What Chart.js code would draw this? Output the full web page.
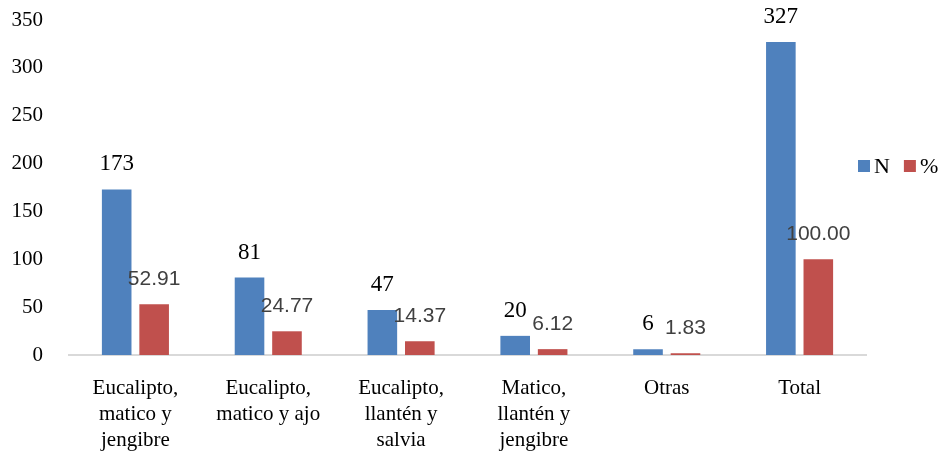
<!DOCTYPE html>
<html>
<head>
<meta charset="utf-8">
<script src="https://cdn.jsdelivr.net/npm/chart.js@4/dist/chart.umd.min.js"></script>
<style>
  html, body { margin: 0; padding: 0; background: #ffffff; }
  #wrap { width: 944px; height: 453px; }
</style>
</head>
<body>
<div id="wrap"><canvas id="chart" width="944" height="453"></canvas></div>
<script>
// Plant combinations (wrapped category labels)
const categories = [
  ["Eucalipto,", "matico y", "jengibre"],
  ["Eucalipto,", "matico y ajo"],
  ["Eucalipto,", "llantén y", "salvia"],
  ["Matico,", "llantén y", "jengibre"],
  ["Otras"],
  ["Total"]
];
const seriesNames = ["N", "%"];
const countValues = [173, 81, 47, 20, 6, 327];
const percentValues = [52.91, 24.77, 14.37, 6.12, 1.83, 100.00];
const yTicks = [0, 50, 100, 150, 200, 250, 300, 350];

const BLUE = "#4F81BD";
const RED = "#C0504D";
const SERIF = "'Liberation Serif', 'Times New Roman', serif";
const SANS = "'Liberation Sans', Arial, sans-serif";

// Value labels above each bar
const valueLabels = {
  id: "valueLabels",
  afterDatasetsDraw(chart) {
    const ctx = chart.ctx;
    ctx.save();
    ctx.textAlign = "center";
    ctx.textBaseline = "middle";
    chart.data.datasets.forEach((ds, di) => {
      const meta = chart.getDatasetMeta(di);
      meta.data.forEach((bar, i) => {
        const v = ds.data[i];
        if (di === 0) {
          ctx.font = "23px " + SERIF;
          ctx.fillStyle = "#000000";
          ctx.fillText(String(v), bar.x, bar.y - 25);
        } else {
          ctx.font = "21px " + SANS;
          ctx.fillStyle = "#404040";
          ctx.fillText(v.toFixed(2), bar.x, bar.y - 25);
        }
      });
    });
    ctx.restore();
  }
};

// Horizontal legend at the right edge
const sideLegend = {
  id: "sideLegend",
  afterDraw(chart) {
    const ctx = chart.ctx;
    const area = chart.chartArea;
    const cy = 166;
    let x = area.right - 8;
    ctx.save();
    ctx.font = "22px " + SERIF;
    ctx.textBaseline = "middle";
    ctx.textAlign = "left";
    chart.data.datasets.forEach((ds) => {
      ctx.fillStyle = ds.backgroundColor;
      ctx.fillRect(x, cy - 6, 12, 12);
      x += 16;
      ctx.fillStyle = "#000000";
      ctx.fillText(ds.label, x, cy + 1);
      x += ctx.measureText(ds.label).width + 14;
    });
    ctx.restore();
  }
};

new Chart(document.getElementById("chart"), {
  type: "bar",
  data: {
    labels: categories,
    datasets: [
      { label: seriesNames[0], data: countValues, backgroundColor: BLUE },
      { label: seriesNames[1], data: percentValues, backgroundColor: RED }
    ]
  },
  options: {
    responsive: false,
    animation: false,
    layout: { padding: { left: 0, right: 78, top: 20, bottom: 0 } },
    datasets: { bar: { categoryPercentage: 0.564, barPercentage: 0.79 } },
    plugins: { legend: { display: false }, tooltip: { enabled: false } },
    scales: {
      x: {
        grid: { display: false },
        border: { display: true, color: "#d9d9d9", width: 2 },
        ticks: {
          color: "#000000",
          font: { family: SERIF, size: 21, lineHeight: 1.24 },
          padding: 12,
          maxRotation: 0,
          autoSkip: false
        },
        afterFit(scale) { scale.height = 98; }
      },
      y: {
        min: 0,
        max: 350,
        afterBuildTicks(scale) { scale.ticks = yTicks.map(v => ({ value: v })); },
        grid: { display: false },
        border: { display: false },
        ticks: {
          color: "#000000",
          font: { family: SERIF, size: 21 },
          padding: 18
        },
        afterFit(scale) {
          scale.width = 69;
          scale.paddingTop = 0;
          scale.paddingBottom = 0;
        }
      }
    }
  },
  plugins: [valueLabels, sideLegend]
});
</script>
</body>
</html>
